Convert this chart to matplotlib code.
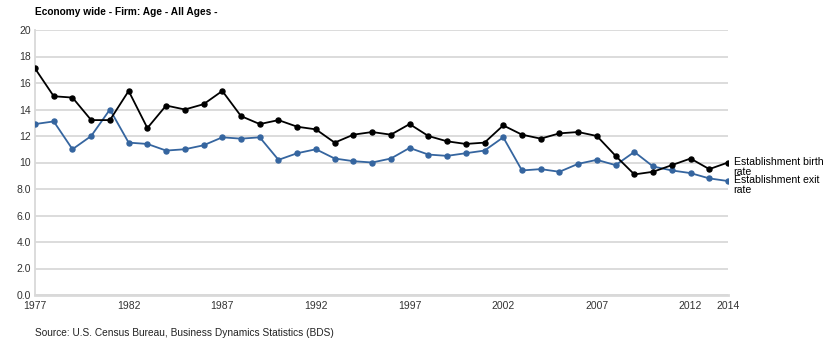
#!/usr/bin/python3

# establishment birth and exit rates, economy wide

import matplotlib
matplotlib.use('Agg')
import matplotlib.pyplot as plt

plt.rcParams['font.family'] = ['Liberation Sans', 'DejaVu Sans']

years = list(range(1977, 2015))
birth_rate = [17.1, 15.0, 14.9, 13.2, 13.2, 15.4, 12.6, 14.3, 14.0, 14.4,
              15.4, 13.5, 12.9, 13.2, 12.7, 12.5, 11.5, 12.1, 12.3, 12.1,
              12.9, 12.0, 11.6, 11.4, 11.5, 12.8, 12.1, 11.8, 12.2, 12.3,
              12.0, 10.5, 9.1, 9.3, 9.8, 10.3, 9.5, 10.0]
exit_rate = [12.9, 13.1, 11.0, 12.0, 14.0, 11.5, 11.4, 10.9, 11.0, 11.3,
             11.9, 11.8, 11.9, 10.2, 10.7, 11.0, 10.3, 10.1, 10.0, 10.3,
             11.1, 10.6, 10.5, 10.7, 10.9, 11.9, 9.4, 9.5, 9.3, 9.9,
             10.2, 9.8, 10.8, 9.7, 9.4, 9.2, 8.8, 8.6]
x_ticks = [1977, 1982, 1987, 1992, 1997, 2002, 2007, 2012, 2014]
y_ticks = [0, 2, 4, 6, 8, 10, 12, 14, 16, 18, 20]
y_labels = ['0.0', '2.0', '4.0', '6.0', '8.0', '10', '12', '14', '16', '18', '20']
series = [('Establishment birth\nrate', birth_rate, '#000000'),
          ('Establishment exit\nrate', exit_rate, '#35659f')]

fig = plt.figure(figsize=(8.4, 3.5), dpi=100)
ax = fig.add_axes([35 / 840, 55 / 350, 693 / 840, 265 / 350])

# plot data, exit rate below birth rate
for label, vals, color in series[::-1]:
    ax.plot(years, vals, color=color, linewidth=1.3, marker='o',
            markersize=3.6, zorder=3)
    ax.annotate(label, xy=(years[-1], vals[-1]), xytext=(4, 4),
                textcoords='offset points', va='top', ha='left',
                fontsize=7.6, color='#000000', linespacing=1.0,
                annotation_clip=False)

# axes
ax.set_xlim(1977, 2014)
ax.set_ylim(0, 20)
ax.set_xticks(x_ticks)
ax.set_xticklabels([str(t) for t in x_ticks])
ax.set_yticks(y_ticks)
ax.set_yticklabels(y_labels)
ax.tick_params(axis='both', length=0, labelsize=7.5, colors='#333333')
ax.tick_params(axis='x', pad=4)
ax.tick_params(axis='y', pad=3)
ax.grid(axis='y', color='#d9d9d9', linewidth=1.3)
ax.set_axisbelow(True)
for s in ['top', 'right']:
    ax.spines[s].set_visible(False)
ax.spines['left'].set_color('#d9d9d9')
ax.spines['left'].set_linewidth(1.3)
ax.spines['bottom'].set_color('#d9d9d9')
ax.spines['bottom'].set_linewidth(2.0)

# texts
fig.text(35 / 840, 1 - 12 / 350, 'Economy wide - Firm: Age - All Ages -',
         fontsize=7.3, fontweight='bold', va='center', ha='left')
fig.text(35 / 840, 1 - 333 / 350,
         'Source: U.S. Census Bureau, Business Dynamics Statistics (BDS)',
         fontsize=7.3, va='center', ha='left', color='#222222')

fig.savefig('out.png', dpi=100)
